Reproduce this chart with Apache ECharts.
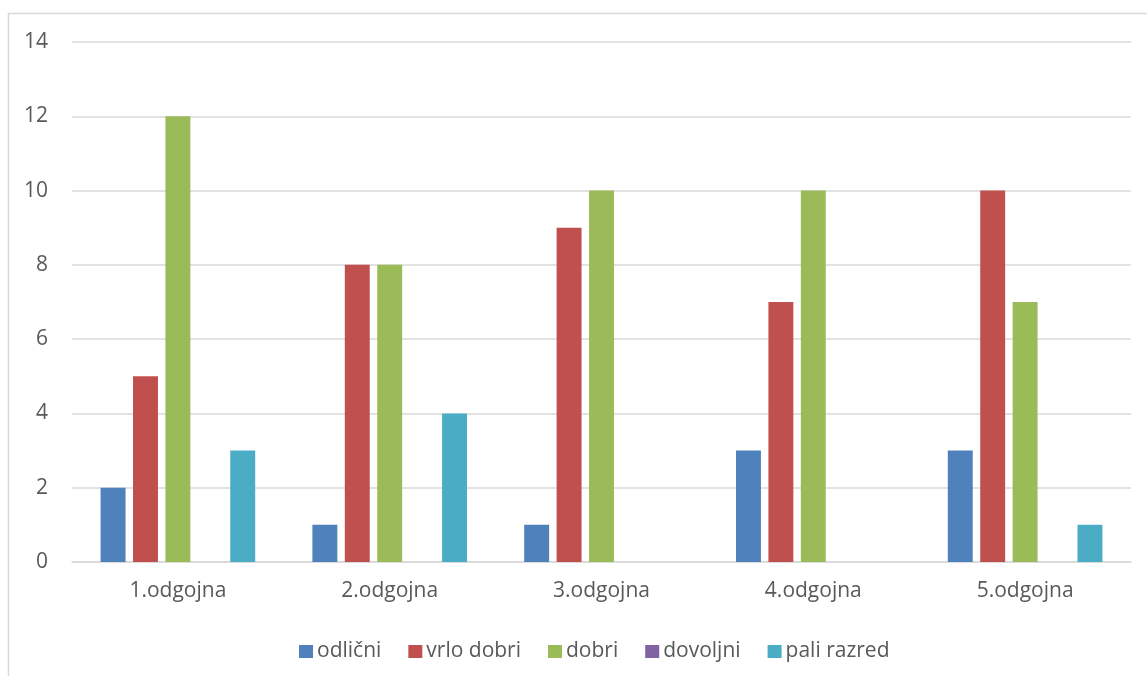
<!DOCTYPE html>
<html>
<head>
<meta charset="utf-8">
<script src="https://cdn.jsdelivr.net/npm/echarts@6/dist/echarts.min.js"></script>
<style>
html,body{margin:0;padding:0;background:#fff;}
#chart{width:1147px;height:676px;}
</style>
</head>
<body>
<div id="chart"></div>
<script>
const categories = ['1.odgojna', '2.odgojna', '3.odgojna', '4.odgojna', '5.odgojna'];
const odlicni = [2, 1, 1, 3, 3];
const vrloDobri = [5, 8, 9, 7, 10];
const dobri = [12, 8, 10, 10, 7];
const dovoljni = [0, 0, 0, 0, 0];
const paliRazred = [3, 4, 0, 0, 1];
const seriesNames = ['odlični', 'vrlo dobri', 'dobri', 'dovoljni', 'pali razred'];
const seriesData = [odlicni, vrloDobri, dobri, dovoljni, paliRazred];
const colors = ['#4F81BD', '#C0504D', '#9BBB59', '#8064A2', '#4BACC6'];
const yTicks = [0, 2, 4, 6, 8, 10, 12, 14];

const font = '"Open Sans", sans-serif';
const chart = echarts.init(document.getElementById('chart'), null, {renderer: 'canvas'});
chart.setOption({
  animation: false,
  color: colors,
  textStyle: {fontFamily: font},
  graphic: [{
    type: 'rect', silent: true,
    shape: {x: 8.5, y: 13.5, width: 1160, height: 700},
    style: {fill: 'none', stroke: '#d9d9d9', lineWidth: 1.5}
  }],
  grid: {left: 72, right: 16, top: 42, bottom: 114},
  legend: {
    top: 636, left: 294,
    itemWidth: 14, itemHeight: 13, itemGap: 27,
    icon: 'rect',
    textStyle: {color: '#595959', fontSize: 21, fontFamily: font, padding: [0, 0, 0, -1]},
    data: seriesNames
  },
  xAxis: {
    type: 'category', data: categories,
    axisLine: {lineStyle: {color: '#d9d9d9', width: 1.5}},
    axisTick: {show: false},
    axisLabel: {color: '#595959', fontSize: 21, margin: 19, fontFamily: font}
  },
  yAxis: {
    type: 'value', min: yTicks[0], max: yTicks[yTicks.length - 1], interval: 2,
    axisLine: {show: false}, axisTick: {show: false},
    splitLine: {lineStyle: {color: '#d9d9d9', width: 1.5}},
    axisLabel: {color: '#595959', fontSize: 21, margin: 24, fontFamily: font}
  },
  series: seriesNames.map((n, i) => ({
    name: n, type: 'bar', data: seriesData[i],
    barGap: '30%', barCategoryGap: '27%',
    itemStyle: {color: colors[i]}
  }))
});
</script>
</body>
</html>
